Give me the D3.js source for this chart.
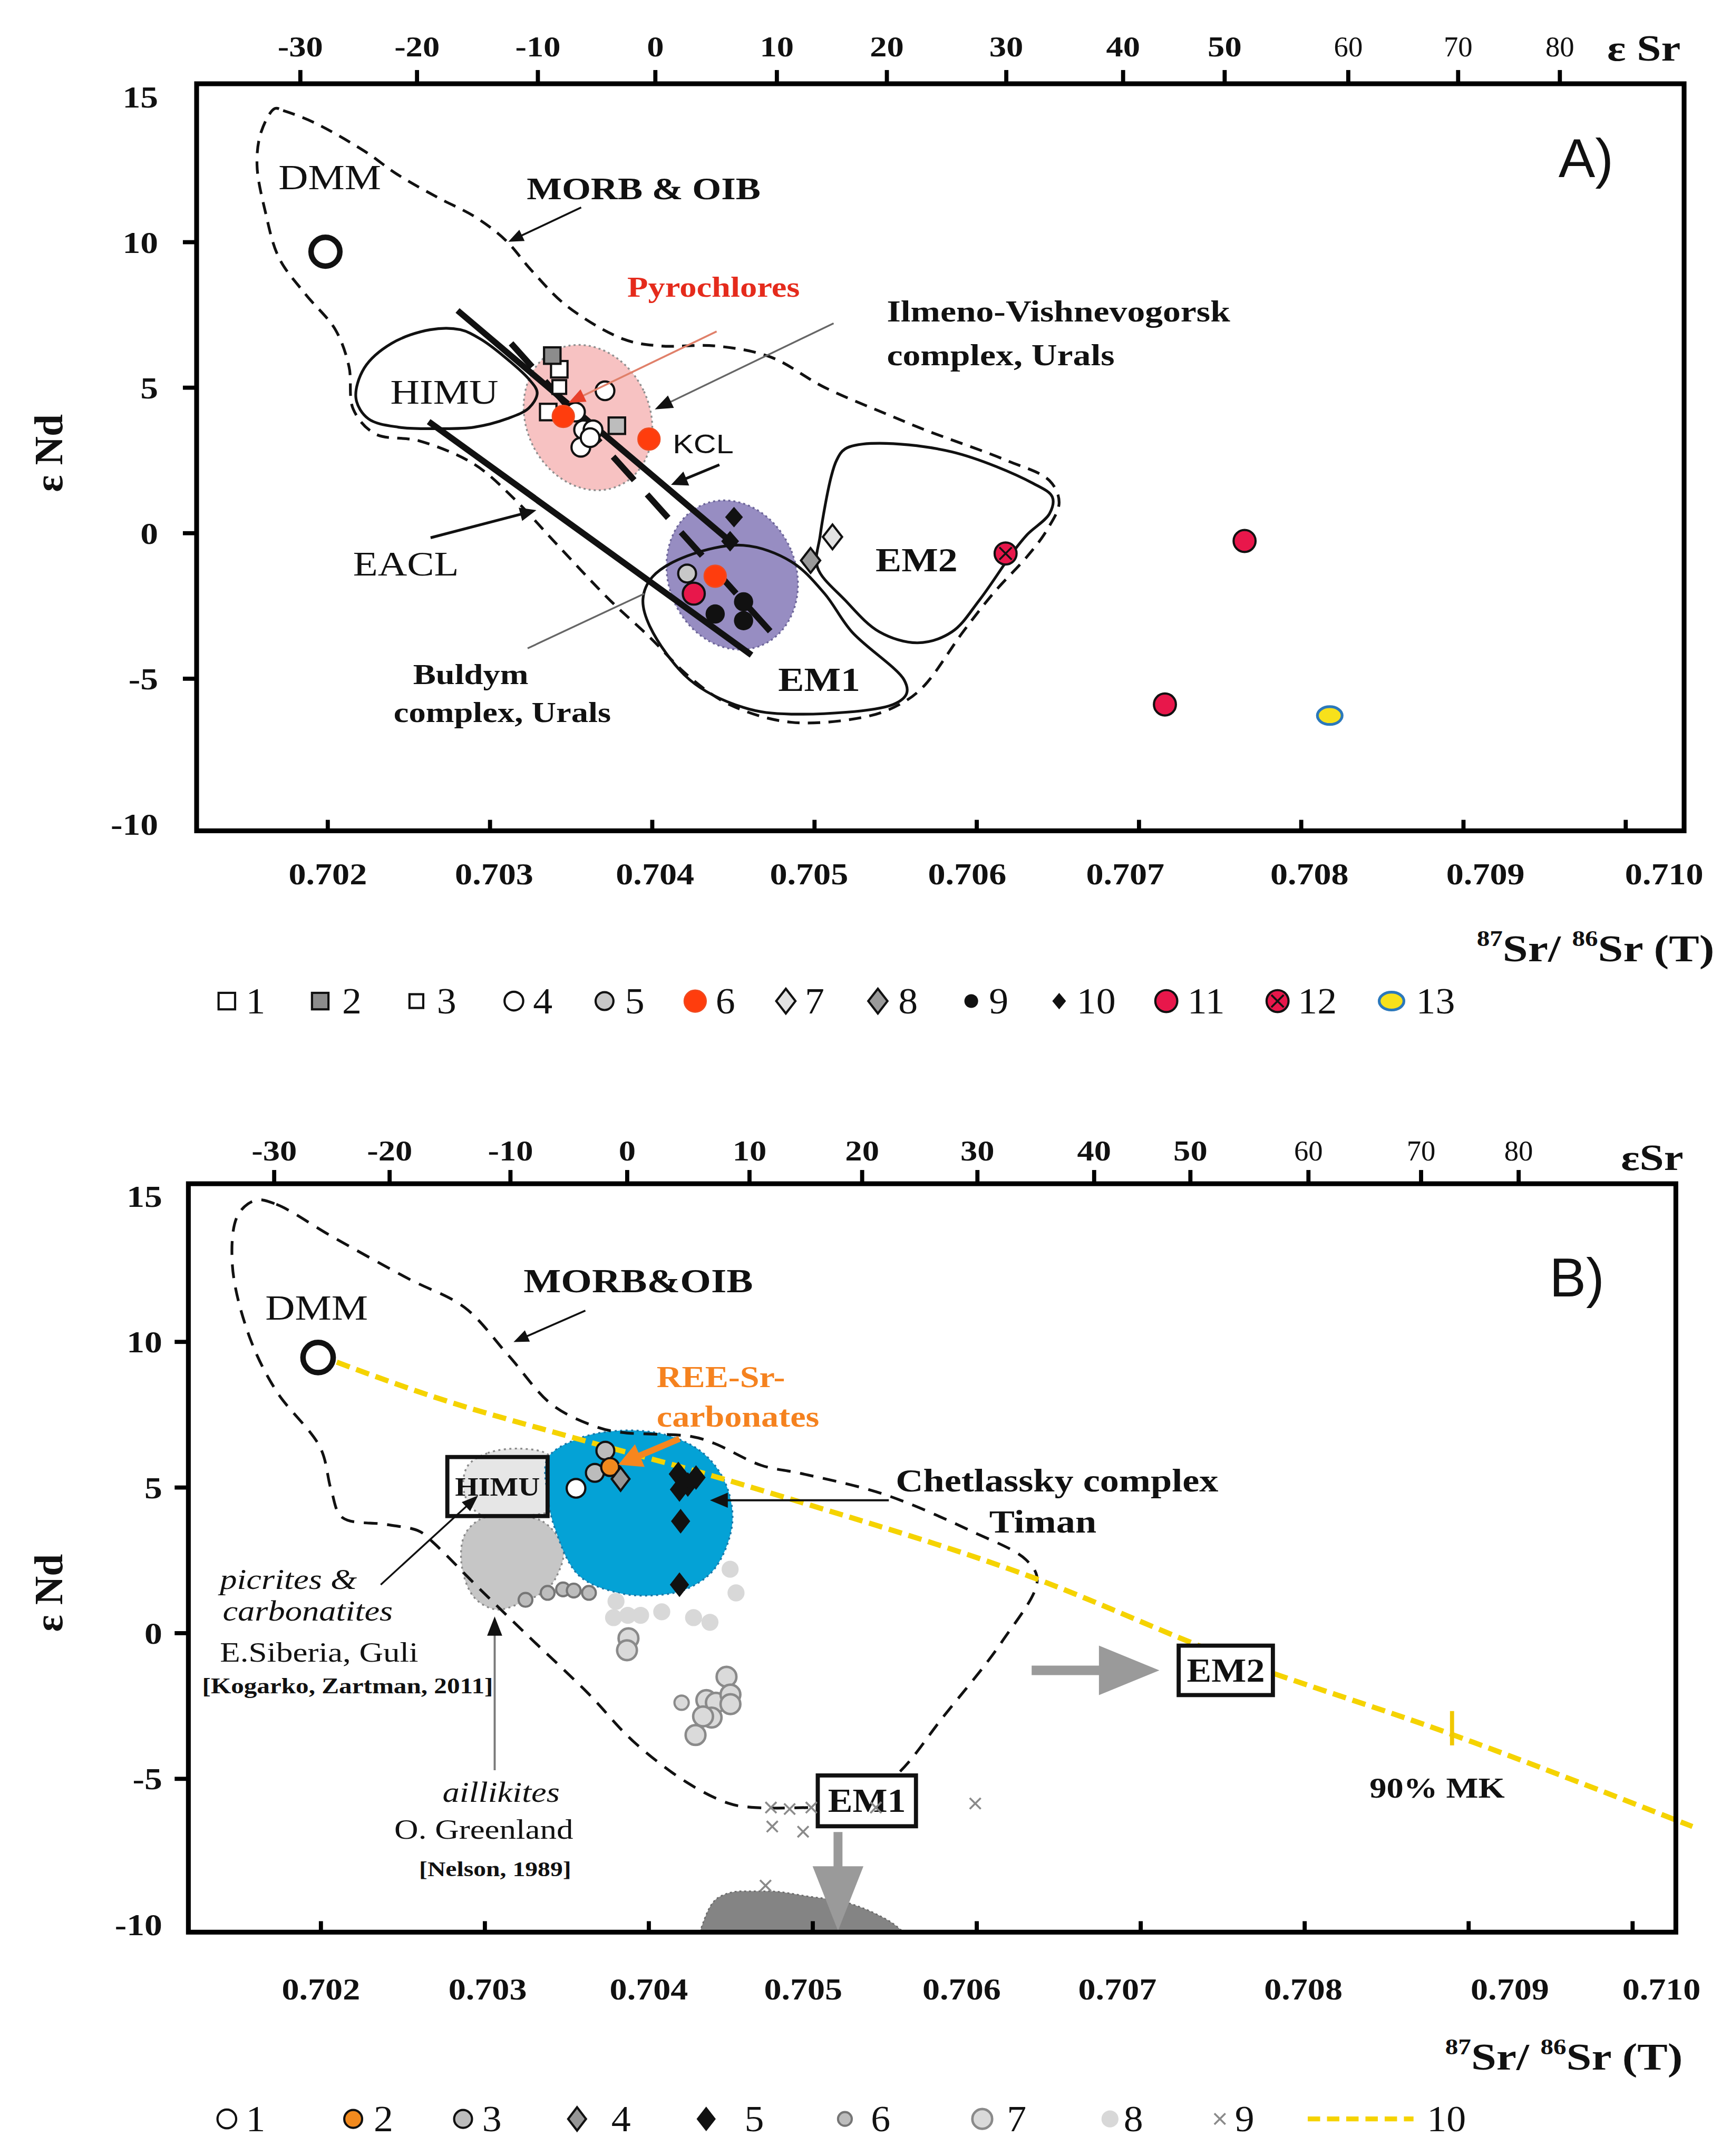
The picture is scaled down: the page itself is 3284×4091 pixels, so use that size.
<!DOCTYPE html>
<html>
<head>
<meta charset="utf-8">
<script src="https://d3js.org/d3.v7.min.js"></script>
<style>body{margin:0;background:#fff}</style>
</head>
<body>
<script>
// Sr-Nd isotope diagrams, panels A) and B)

// ---- axis values ----
var srTicks = [0.702, 0.703, 0.704, 0.705, 0.706, 0.707, 0.708, 0.709, 0.710];
var ndTicks = [15, 10, 5, 0, -5, -10];
var esrTicks = [-30, -20, -10, 0, 10, 20, 30, 40, 50, 60, 70, 80];
// 87Sr/86Sr value that sits under each eSr tick
var esrRatioA = [0.701831, 0.702550, 0.703295, 0.704019, 0.704768, 0.705446, 0.706182, 0.706902, 0.707528, 0.708290, 0.708967, 0.709594];
var esrRatioB = [0.701715, 0.702419, 0.703156, 0.703868, 0.704614, 0.705301, 0.706004, 0.706716, 0.707303, 0.708023, 0.708710, 0.709305];

// ---- panel A data [87Sr/86Sr, eNd] ----
var dmmA = [0.70199, 9.65];
var a1 = [[0.703431, 5.61], [0.703363, 4.14]];
var a2 = [[0.703388, 6.08], [0.703786, 3.67]];
var a3 = [[0.703431, 5.00]];
var a4 = [[0.703713, 4.87], [0.703531, 4.14], [0.703581, 3.53], [0.703639, 3.53], [0.703564, 2.93], [0.703621, 3.26]];
var a5 = [[0.704219, -1.41]];
var a6 = [[0.703456, 3.99], [0.703984, 3.21], [0.704392, -1.50]];
var a7 = [[0.705115, -0.15]];
var a8 = [[0.704980, -0.96]];
var a9 = [[0.704392, -2.80], [0.704567, -2.38], [0.704567, -3.03]];
var a10 = [[0.704508, 0.53], [0.704484, -0.30]];
var a11 = [[0.704260, -2.10], [0.707655, -0.29], [0.707164, -5.91]];
var a12 = [[0.706182, -0.72]];
var a13 = [[0.708180, -6.29]];

var ilmenoCenter = [0.703608, 3.95];
var buldymCenter = [0.704497, -1.46];

var eaclLine = [[0.702626, 3.81], [0.704616, -4.21]];
var kclLine = [[0.702804, 7.63], [0.704514, -0.44]];
var dashLine = [[0.703134, 6.50], [0.704734, -3.41]];

var morbA = [[0.701678, 14.57], [0.701729, 14.50], [0.701915, 14.10], [0.702229, 13.11], [0.702432, 12.31],
  [0.702686, 11.50], [0.702914, 10.84], [0.703101, 10.04], [0.703261, 9.00], [0.703481, 7.77], [0.703829, 6.64],
  [0.704057, 6.41], [0.704396, 6.41], [0.704734, 6.03], [0.705065, 4.99], [0.705479, 4.00], [0.705683, 3.53],
  [0.706182, 2.49], [0.706453, 1.78], [0.706512, 1.03], [0.706436, 0.08], [0.706317, -0.81], [0.706114, -2.04],
  [0.705920, -3.41], [0.705683, -5.25], [0.705556, -5.82], [0.705352, -6.29], [0.704861, -6.52], [0.704480, -5.91],
  [0.704235, -4.97], [0.703989, -3.60], [0.703735, -2.28], [0.703405, -0.34], [0.703160, 1.12], [0.702906, 2.35],
  [0.702567, 3.15], [0.702296, 3.39], [0.702161, 4.24], [0.702135, 5.70], [0.702051, 6.97], [0.701865, 8.20],
  [0.701704, 9.43], [0.701619, 11.03], [0.701568, 12.64], [0.701594, 13.77]];
var himuA = [[0.702178, 4.61], [0.702229, 5.65], [0.702398, 6.50], [0.702635, 6.97], [0.702821, 6.97], [0.702948, 6.64],
  [0.703075, 6.12], [0.703244, 5.27], [0.703295, 4.80], [0.703244, 4.28], [0.703109, 3.91], [0.702906, 3.62],
  [0.702694, 3.57], [0.702440, 3.62], [0.702254, 3.91]];
var em1A = [[0.703947, -2.28], [0.704006, -1.52], [0.704218, -0.81], [0.704565, -0.44], [0.704861, -1.00], [0.705065, -2.09],
  [0.705234, -3.41], [0.705556, -5.06], [0.705572, -5.53], [0.705488, -5.91], [0.704861, -6.24], [0.704565, -6.01],
  [0.704235, -5.06], [0.703989, -3.22]];
var em2A = [[0.705192, 2.87], [0.705352, 3.06], [0.705852, 2.77], [0.706351, 1.69], [0.706470, 1.22], [0.706453, 0.65],
  [0.706317, -0.06], [0.706233, -0.63], [0.706021, -2.32], [0.705852, -3.41], [0.705640, -3.79], [0.705403, -3.41],
  [0.705192, -2.32], [0.705022, -1.19], [0.705039, -0.11], [0.705107, 1.92], [0.705141, 2.49]];

// ---- panel B data ----
var dmmB = [0.701987, 9.44];
var b1 = [[0.703560, 4.95]];
var b2 = [[0.703768, 5.68]];
var b3 = [[0.703675, 5.48], [0.703739, 6.24]];
var b4 = [[0.703832, 5.27]];
var b5 = [[0.704184, 5.44], [0.704242, 5.08], [0.704292, 5.32], [0.704191, 4.91], [0.704198, 3.82], [0.704191, 1.64]];
var b6 = [[0.703252, 1.12], [0.703387, 1.36], [0.703481, 1.48], [0.703546, 1.44], [0.703639, 1.36]];
var b7 = [[0.703880, -0.20], [0.703871, -0.61], [0.704478, -1.52], [0.704204, -2.41], [0.704355, -2.32], [0.704413, -2.41],
  [0.704502, -2.13], [0.704387, -2.92], [0.704289, -3.52], [0.704502, -2.46], [0.704335, -2.88]];
var b8 = [[0.703804, 1.07], [0.703789, 0.51], [0.703876, 0.59], [0.703954, 0.59], [0.704083, 0.71], [0.704277, 0.51],
  [0.704377, 0.35], [0.704500, 2.17], [0.704536, 1.36]];
var b9 = [[0.704749, -6.01], [0.704863, -6.06], [0.704995, -6.01], [0.704757, -6.66], [0.704945, -6.84], [0.705995, -5.87],
  [0.704716, -8.69], [0.705389, -6.01]];
var mixLine = [[0.702101, 9.28], [0.702687, 8.10], [0.703550, 6.68], [0.704404, 5.36], [0.704932, 4.47], [0.706331, 1.92],
  [0.707504, -0.77], [0.708878, -3.45], [0.710369, -6.66]];
var mix90 = [0.708903, -3.31];

var morbB = [[0.701606, 14.84], [0.701732, 14.70], [0.702067, 13.61], [0.702536, 12.15], [0.702880, 11.16], [0.703148, 9.51],
  [0.703416, 7.81], [0.703684, 7.06], [0.703835, 6.87], [0.704262, 6.73], [0.704404, 6.49], [0.704689, 5.74],
  [0.704932, 5.46], [0.705435, 4.75], [0.705971, 3.48], [0.706306, 2.49], [0.706373, 1.78], [0.706155, -0.34],
  [0.705795, -2.93], [0.705518, -4.87], [0.705242, -5.91], [0.705024, -6.00], [0.704630, -6.00], [0.704488, -5.86],
  [0.704237, -5.15], [0.703910, -3.74], [0.703634, -2.09], [0.703257, -0.06], [0.702972, 1.50], [0.702687, 3.10],
  [0.702603, 3.48], [0.702402, 3.71], [0.702134, 3.95], [0.702067, 4.89], [0.702000, 6.35], [0.701732, 8.29],
  [0.701564, 10.22], [0.701464, 12.62], [0.701497, 14.32]];
var chetlasskyField = [[0.703387, 5.98], [0.703567, 6.64], [0.703832, 6.93], [0.704111, 6.78], [0.704335, 6.16], [0.704471, 5.13],
  [0.704513, 3.74], [0.704407, 2.20], [0.704237, 1.50], [0.704047, 1.28], [0.703818, 1.36], [0.703575, 1.97],
  [0.703431, 3.58], [0.703387, 4.71]];
var picriteField = [[0.702896, 5.69], [0.703022, 6.16], [0.703231, 6.31], [0.703399, 6.07], [0.703466, 5.13], [0.703441, 4.28],
  [0.703231, 4.00], [0.702980, 4.04], [0.702880, 4.75]];
var aillikiteField = [[0.703114, 4.00], [0.703357, 3.81], [0.703483, 2.86], [0.703441, 1.92], [0.703374, 1.45], [0.703231, 1.03],
  [0.703072, 0.79], [0.702938, 1.21], [0.702863, 2.30], [0.702880, 3.34], [0.702980, 3.90]];
var em1FieldB = [[0.704314, -10.30], [0.704372, -9.47], [0.704454, -9.02], [0.704568, -8.88], [0.704733, -8.88],
  [0.704978, -9.06], [0.705224, -9.29], [0.705389, -9.66], [0.705503, -10.03], [0.705560, -10.30]];

// ---- page ----
var svg = d3.select("body").append("svg")
  .attr("width", 3284).attr("height", 4091)
  .attr("viewBox", "0 0 1260 1570");
svg.append("rect").attr("width", 1260).attr("height", 1570).attr("fill", "#fff");

var serif = "'Liberation Serif','Times New Roman',serif";
var sans = "'Liberation Sans',Arial,sans-serif";
var SX = 1.18; // the original lettering is a little wide

var panelA = {
  left: 143, right: 1226, top: 61, bottom: 605,
  x: d3.scaleLinear().domain([0.702, 0.710]).range([238, 1183]),
  y: d3.scaleLinear().domain([-10, 15]).range([599.7, 69.9]),
  esr: esrRatioA, topGap: 20, botGap: 39, labelX: -28, legendY: 729,
  srLabelShift: [0, 3, 2, -4, -7, -10, 6, 16, 28], esrTitle: "\u03b5 Sr"
};
var panelB = {
  left: 137, right: 1220, top: 862, bottom: 1407,
  x: d3.scaleLinear().domain([0.702, 0.710]).range([233, 1188]),
  y: d3.scaleLinear().domain([-10, 15]).range([1400.9, 870.6]),
  esr: esrRatioB, topGap: 17, botGap: 49, labelX: -19, legendY: 1543,
  srLabelShift: [0, 2, 0, -7, -11, -17, -1, 30, 21], esrTitle: "\u03b5Sr"
};

function note(g, x, y, txt, o) {
  o = o || {};
  return g.append("text")
    .attr("transform", "translate(" + x + "," + y + ") scale(" + (o.sx || SX) + ",1)")
    .attr("text-anchor", o.anchor || "start")
    .style("font-family", o.font || serif)
    .style("font-size", (o.size || 22) + "px")
    .style("font-weight", o.weight || "bold")
    .style("font-style", o.italic ? "italic" : "normal")
    .style("fill", o.color || "#111")
    .text(txt);
}

function arrow(g, x1, y1, x2, y2, o) {
  o = o || {};
  var len = o.head || 11, hw = o.hw || 4.5;
  var dx = x2 - x1, dy = y2 - y1, d = Math.sqrt(dx * dx + dy * dy);
  var ux = dx / d, uy = dy / d;
  var bx = x2 - ux * len, by = y2 - uy * len;
  g.append("line")
    .attr("x1", x1).attr("y1", y1).attr("x2", bx + ux).attr("y2", by + uy)
    .attr("stroke", o.color || "#111").attr("stroke-width", o.width || 1.4);
  if (o.nohead) return;
  g.append("path")
    .attr("d", "M" + x2 + "," + y2 + "L" + (bx - uy * hw) + "," + (by + ux * hw) + "L" + (bx + uy * hw) + "," + (by - ux * hw) + "Z")
    .attr("fill", o.headColor || o.color || "#111");
}

function dia(w, h) { return "M0," + (-h) + "L" + w + ",0L0," + h + "L" + (-w) + ",0Z"; }

function symbol(g, kind) {
  var k = "#111";
  switch (kind) {
    case "sq": g.append("rect").attr("x", -6).attr("y", -6).attr("width", 12).attr("height", 12).attr("fill", "#fff").attr("stroke", k).attr("stroke-width", 1.6); break;
    case "sqGray": g.append("rect").attr("x", -6).attr("y", -6).attr("width", 12).attr("height", 12).attr("fill", "#8c8c8c").attr("stroke", k).attr("stroke-width", 1.6); break;
    case "sqLight": g.append("rect").attr("x", -6).attr("y", -6).attr("width", 12).attr("height", 12).attr("fill", "#bdbdbd").attr("stroke", k).attr("stroke-width", 1.6); break;
    case "sqSmall": g.append("rect").attr("x", -5).attr("y", -5).attr("width", 10).attr("height", 10).attr("fill", "#fff").attr("stroke", k).attr("stroke-width", 1.6); break;
    case "cWhite": g.append("circle").attr("r", 6.8).attr("fill", "#fff").attr("stroke", k).attr("stroke-width", 1.6); break;
    case "cGray": g.append("circle").attr("r", 6.5).attr("fill", "#c8c8c8").attr("stroke", k).attr("stroke-width", 1.6); break;
    case "cRed": g.append("circle").attr("r", 8).attr("fill", "#ff3d0d").attr("stroke", "#f04a20").attr("stroke-width", 1); break;
    case "dLight": g.append("path").attr("d", dia(7, 9)).attr("fill", "#e2e2e2").attr("stroke", k).attr("stroke-width", 1.6); break;
    case "dGray": g.append("path").attr("d", dia(7, 9)).attr("fill", "#9a9a9a").attr("stroke", k).attr("stroke-width", 1.6); break;
    case "cBlack": g.append("circle").attr("r", 7).attr("fill", "#111"); break;
    case "dotBlack": g.append("circle").attr("r", 5).attr("fill", "#111"); break;
    case "dBlack": g.append("path").attr("d", dia(6.5, 7.5)).attr("fill", "#111"); break;
    case "dBlackSmall": g.append("path").attr("d", dia(5, 6)).attr("fill", "#111"); break;
    case "cCrimson": g.append("circle").attr("r", 8).attr("fill", "#e8174b").attr("stroke", k).attr("stroke-width", 1.6); break;
    case "cCross":
      g.append("circle").attr("r", 8).attr("fill", "#e8174b").attr("stroke", k).attr("stroke-width", 1.6);
      g.append("path").attr("d", "M-4.5,-4.5L4.5,4.5M-4.5,4.5L4.5,-4.5").attr("stroke", k).attr("stroke-width", 1.4);
      break;
    case "eYellow": g.append("ellipse").attr("rx", 9).attr("ry", 6.5).attr("fill", "#f7e11b").attr("stroke", "#2b78bb").attr("stroke-width", 2); break;
    case "cOrange": g.append("circle").attr("r", 6.5).attr("fill", "#f28a1e").attr("stroke", k).attr("stroke-width", 1.6); break;
    case "cGray3": g.append("circle").attr("r", 6.5).attr("fill", "#bcbcbc").attr("stroke", k).attr("stroke-width", 1.6); break;
    case "dGray4": g.append("path").attr("d", dia(6.5, 8.5)).attr("fill", "#969696").attr("stroke", k).attr("stroke-width", 1.6); break;
    case "dBlack5": g.append("path").attr("d", dia(7, 9)).attr("fill", "#111"); break;
    case "c6": g.append("circle").attr("r", 5).attr("fill", "#bdbdbd").attr("stroke", "#767676").attr("stroke-width", 1.6); break;
    case "c7": g.append("circle").attr("r", 7.2).attr("fill", "#dadada").attr("stroke", "#8a8a8a").attr("stroke-width", 1.8); break;
    case "c7s": g.append("circle").attr("r", 5.2).attr("fill", "#dadada").attr("stroke", "#8a8a8a").attr("stroke-width", 1.6); break;
    case "c8": g.append("circle").attr("r", 6.2).attr("fill", "#d8d8d8"); break;
    case "x9": g.append("path").attr("d", "M-4,-4L4,4M-4,4L4,-4").attr("stroke", "#8a8a8a").attr("stroke-width", 1.4); break;
  }
}

function points(g, P, data, kind) {
  g.selectAll(null).data(data).enter().append("g")
    .attr("transform", function (d) { return "translate(" + P.x(d[0]) + "," + P.y(d[1]) + ")"; })
    .each(function () { symbol(d3.select(this), kind); });
}

function outline(g, P, data, o) {
  var line = d3.line().x(function (d) { return P.x(d[0]); }).y(function (d) { return P.y(d[1]); })
    .curve(d3.curveCatmullRomClosed.alpha(0.5));
  return g.append("path").attr("d", line(data))
    .attr("fill", o.fill || "none").attr("stroke", o.stroke || "none")
    .attr("stroke-width", o.width || 2).attr("stroke-dasharray", o.dash || null);
}

function segment(g, P, data, o) {
  return g.append("line")
    .attr("x1", P.x(data[0][0])).attr("y1", P.y(data[0][1]))
    .attr("x2", P.x(data[1][0])).attr("y2", P.y(data[1][1]))
    .attr("stroke", "#111").attr("stroke-width", o.width || 4.5)
    .attr("stroke-dasharray", o.dash || null);
}

function drawAxes(g, P) {
  g.append("rect")
    .attr("x", P.left).attr("y", P.top)
    .attr("width", P.right - P.left).attr("height", P.bottom - P.top)
    .attr("fill", "none").attr("stroke", "#000").attr("stroke-width", 3.5);

  // eSr on top
  var topScale = d3.scaleLinear().domain(esrTicks).range(P.esr.map(P.x));
  var tAx = g.append("g").attr("transform", "translate(0," + P.top + ")")
    .call(d3.axisTop(topScale).tickValues(esrTicks).tickSize(10).tickFormat(function (d) { return String(d); }));
  tAx.select(".domain").remove();
  tAx.selectAll(".tick line").attr("stroke", "#000").attr("stroke-width", 3);
  tAx.selectAll(".tick text")
    .attr("y", -P.topGap).attr("dy", 0)
    .attr("transform", function (d) { return d >= 60 ? "scale(1,1)" : "scale(" + SX + ",1)"; })
    .style("font-family", serif).style("font-size", "21px")
    .style("font-weight", function (d) { return d >= 60 ? "normal" : "bold"; })
    .style("fill", "#111");

  // 87Sr/86Sr at the bottom, ticks inside
  var bAx = g.append("g").attr("transform", "translate(0," + P.bottom + ")")
    .call(d3.axisBottom(P.x).tickValues(srTicks).tickSize(-8).tickFormat(d3.format(".3f")));
  bAx.select(".domain").remove();
  bAx.selectAll(".tick line").attr("stroke", "#000").attr("stroke-width", 3);
  bAx.selectAll(".tick text")
    .attr("y", P.botGap).attr("dy", 0)
    .attr("transform", function (d, i) { return "translate(" + P.srLabelShift[i] + ",0) scale(" + SX + ",1)"; })
    .style("font-family", serif).style("font-size", "21.5px").style("font-weight", "bold").style("fill", "#111");

  // eNd on the left
  var lAx = g.append("g").attr("transform", "translate(" + P.left + ",0)")
    .call(d3.axisLeft(P.y).tickValues(ndTicks).tickSize(10).tickFormat(function (d) { return String(d); }));
  lAx.select(".domain").remove();
  lAx.selectAll(".tick line").attr("stroke", "#000").attr("stroke-width", 3)
    .attr("x2", function (d) { return (d === 15 || d === -10) ? 0 : -10; });
  lAx.selectAll(".tick text")
    .attr("x", 0).attr("dy", "0.35em")
    .attr("transform", "translate(" + P.labelX + ",0) scale(" + SX + ",1)")
    .style("font-family", serif).style("font-size", "22px").style("font-weight", "bold").style("fill", "#111");
}

function axisTitles(g, P, nd, esrPos, srPos) {
  note(g, esrPos[0], esrPos[1], P.esrTitle, { size: 27 });
  g.append("text")
    .attr("transform", "translate(" + nd[0] + "," + nd[1] + ") rotate(-90)")
    .attr("text-anchor", "middle")
    .style("font-family", serif).style("font-size", "29px").style("font-weight", "bold").style("fill", "#111")
    .text("\u03b5 Nd");
  var t = g.append("text")
    .attr("transform", "translate(" + srPos[0] + "," + srPos[1] + ") scale(" + SX + ",1)")
    .attr("text-anchor", "end")
    .style("font-family", serif).style("font-weight", "bold").style("fill", "#111");
  t.append("tspan").style("font-size", "16px").attr("dy", -11).text("87");
  t.append("tspan").style("font-size", "28px").attr("dy", 11).text("Sr/ ");
  t.append("tspan").style("font-size", "16px").attr("dy", -11).text("86");
  t.append("tspan").style("font-size", "28px").attr("dy", 11).text("Sr (T)");
}

function legend(g, y, items) {
  items.forEach(function (it) {
    var s = g.append("g").attr("transform", "translate(" + it[1] + "," + y + ")");
    if (it[0] === "yline") {
      s.append("line").attr("x1", 0).attr("x2", 77).attr("stroke", "#f5d300").attr("stroke-width", 3.5).attr("stroke-dasharray", "9,5");
    } else {
      symbol(s, it[0]);
    }
    note(g, it[2], y + 9, it[3], { anchor: "middle", weight: "normal", size: 27, sx: 1.05 });
  });
}

// ================= PANEL A =================
(function () {
  var P = panelA, x = P.x, y = P.y;
  var g = svg.append("g");

  // Ilmeno-Vishnevogorsk and Buldym fields
  g.append("ellipse").attr("cx", x(ilmenoCenter[0])).attr("cy", y(ilmenoCenter[1]))
    .attr("rx", 45).attr("ry", 54.5)
    .attr("transform", "rotate(-25," + x(ilmenoCenter[0]) + "," + y(ilmenoCenter[1]) + ")")
    .attr("fill", "#f7c2c2").attr("stroke", "#8f8f8f").attr("stroke-width", 1.3).attr("stroke-dasharray", "1.5,2.2");
  g.append("ellipse").attr("cx", x(buldymCenter[0])).attr("cy", y(buldymCenter[1]))
    .attr("rx", 46.5).attr("ry", 55.5)
    .attr("transform", "rotate(-22," + x(buldymCenter[0]) + "," + y(buldymCenter[1]) + ")")
    .attr("fill", "#978dc2").attr("stroke", "#6d6699").attr("stroke-width", 1.3).attr("stroke-dasharray", "1.5,2.2");

  outline(g, P, morbA, { stroke: "#111", width: 2, dash: "9,6" });
  outline(g, P, himuA, { stroke: "#111", width: 2 });
  outline(g, P, em1A, { stroke: "#111", width: 2 });
  outline(g, P, em2A, { stroke: "#111", width: 2 });

  segment(g, P, eaclLine, {});
  segment(g, P, kclLine, {});
  segment(g, P, dashLine, { dash: "23,14" });

  // DMM
  g.append("circle").attr("cx", x(dmmA[0])).attr("cy", y(dmmA[1])).attr("r", 10.5)
    .attr("fill", "none").attr("stroke", "#111").attr("stroke-width", 4);

  points(g, P, a1, "sq");
  points(g, P, a2.slice(0, 1), "sqGray");
  points(g, P, a2.slice(1), "sqLight");
  points(g, P, a3, "sqSmall");
  points(g, P, a4, "cWhite");
  points(g, P, a5, "cGray");
  points(g, P, a6, "cRed");
  points(g, P, a7, "dLight");
  points(g, P, a8, "dGray");
  points(g, P, a9, "cBlack");
  points(g, P, a10, "dBlack");
  points(g, P, a11, "cCrimson");
  points(g, P, a12, "cCross");
  points(g, P, a13, "eYellow");

  // annotations
  note(g, x(0.70170), y(11.79), "DMM", { weight: "normal", size: 26, sx: 1.15 });
  note(g, x(0.70323), y(11.46), "MORB & OIB", { size: 23 });
  arrow(g, x(0.703566), y(11.17), x(0.703117), y(9.99), { head: 11, hw: 4.5 });
  note(g, x(0.70385), y(8.11), "Pyrochlores", { size: 21, color: "#e52b1c" });
  arrow(g, x(0.704401), y(6.91), x(0.703489), y(4.46), { color: "#e0806a", width: 1.4, headColor: "#e8402a", head: 12, hw: 5 });
  note(g, x(0.70545), y(7.26), "Ilmeno-Vishnevogorsk", { size: 22 });
  note(g, x(0.70545), y(5.75), "complex, Urals", { size: 22 });
  arrow(g, x(0.705122), y(7.19), x(0.704020), y(4.23), { color: "#666", width: 1.3, headColor: "#111", head: 13, hw: 5 });
  note(g, x(0.70413), y(2.73), "KCL", { font: sans, weight: "normal", size: 19, sx: 1.2 });
  arrow(g, x(0.704418), y(2.33), x(0.704120), y(1.64), { width: 2, head: 12, hw: 5.5 });
  note(g, x(0.70239), y(4.42), "HIMU", { weight: "normal", size: 25 });
  note(g, x(0.70216), y(-1.48), "EACL", { weight: "normal", size: 25 });
  arrow(g, x(0.702638), y(-0.18), x(0.703290), y(0.77), { width: 2, head: 12, hw: 5 });
  note(g, x(0.70538), y(-1.33), "EM2", { size: 24 });
  note(g, x(0.70478), y(-5.44), "EM1", { size: 24 });
  note(g, x(0.70253), y(-5.20), "Buldym", { size: 21 });
  note(g, x(0.70241), y(-6.52), "complex, Urals", { size: 21 });
  arrow(g, x(0.703236), y(-3.98), x(0.704032), y(-1.90), { color: "#666", width: 1.3, nohead: true });
  note(g, x(0.70959), y(12.21), "A)", { font: sans, weight: "normal", size: 40, sx: 1 });

  drawAxes(g, P);
  axisTitles(g, P, [45, 330], [1170, 44], [1248, 700]);

  legend(g, P.legendY, [
    ["sq", 165, 186, "1"], ["sqGray", 233, 256, "2"], ["sqSmall", 303, 325, "3"], ["cWhite", 374, 395, "4"],
    ["cGray", 440, 462, "5"], ["cRed", 506, 528, "6"], ["dLight", 572, 593, "7"], ["dGray", 639, 661, "8"],
    ["dotBlack", 707, 727, "9"], ["dBlackSmall", 771, 798, "10"], ["cCrimson", 849, 878, "11"],
    ["cCross", 930, 959, "12"], ["eYellow", 1013, 1045, "13"]
  ]);
})();

// ================= PANEL B =================
(function () {
  var P = panelB, x = P.x, y = P.y;
  var g = svg.append("g");

  outline(g, P, picriteField, { fill: "#e6e6e6", stroke: "#8a8a8a", width: 1.3, dash: "1.5,2.5" });
  outline(g, P, aillikiteField, { fill: "#c6c6c6", stroke: "#8a8a8a", width: 1.3, dash: "1.5,2.5" });
  outline(g, P, chetlasskyField, { fill: "#04a2d6", stroke: "#1a78a8", width: 1.3, dash: "1.5,2.5" });

  // EM1 field at the base of the plot
  var mound = d3.line().x(function (d) { return x(d[0]); }).y(function (d) { return y(d[1]); }).curve(d3.curveMonotoneX);
  g.append("path").attr("d", mound(em1FieldB) + "Z")
    .attr("fill", "#848484").attr("stroke", "#6a6a6a").attr("stroke-width", 1).attr("stroke-dasharray", "1.5,2");

  outline(g, P, morbB, { stroke: "#111", width: 2, dash: "10,7" });

  // DMM - EM2 mixing line (10)
  var mix = d3.line().x(function (d) { return x(d[0]); }).y(function (d) { return y(d[1]); }).curve(d3.curveMonotoneX);
  g.append("path").attr("d", mix(mixLine)).attr("fill", "none")
    .attr("stroke", "#f5d300").attr("stroke-width", 3.8).attr("stroke-dasharray", "10,5");
  g.append("line").attr("x1", x(mix90[0])).attr("x2", x(mix90[0]))
    .attr("y1", y(mix90[1]) - 13).attr("y2", y(mix90[1]) + 12)
    .attr("stroke", "#f0c800").attr("stroke-width", 3);

  g.append("circle").attr("cx", x(dmmB[0])).attr("cy", y(dmmB[1])).attr("r", 11)
    .attr("fill", "none").attr("stroke", "#111").attr("stroke-width", 4);

  points(g, P, b6, "c6");
  points(g, P, b8, "c8");
  points(g, P, b7.slice(0, 3), "c7");
  points(g, P, b7.slice(3, 4), "c7s");
  points(g, P, b7.slice(4), "c7");
  points(g, P, b1, "cWhite");
  points(g, P, b3, "cGray3");
  points(g, P, b2, "cOrange");
  points(g, P, b4, "dGray4");
  points(g, P, b5, "dBlack5");

  // labelled boxes
  function box(sr, nd, w, h, txt, size, fill) {
    var cx = x(sr), cy = y(nd);
    g.append("rect").attr("x", cx - w / 2).attr("y", cy - h / 2).attr("width", w).attr("height", h)
      .attr("fill", fill).attr("stroke", "#111").attr("stroke-width", 3);
    note(g, cx, cy + size * 0.34, txt, { anchor: "middle", size: size, sx: 1.12 });
  }
  box(0.703081, 5.01, 73, 43, "HIMU", 19.5, "none");
  box(0.705334, -5.78, 71.5, 37, "EM1", 24, "#fff");
  box(0.707523, -1.30, 68.6, 36, "EM2", 24, "#fff");
  points(g, P, b9, "x9");

  // grey pointers to EM1 and EM2
  arrow(g, x(0.706339), y(-1.30), x(0.707118), y(-1.30), { color: "#9a9a9a", width: 7, head: 44, hw: 18 });
  arrow(g, x(0.705158), y(-6.85), x(0.705158), y(-10.24), { color: "#9a9a9a", width: 6.5, head: 47, hw: 18.5 });

  // annotations
  note(g, x(0.701665), y(10.74), "DMM", { weight: "normal", size: 26, sx: 1.15 });
  note(g, x(0.703240), y(11.68), "MORB&OIB", { size: 24.5 });
  arrow(g, x(0.703617), y(11.05), x(0.703179), y(9.97), { head: 11, hw: 4.5 });
  note(g, x(0.704052), y(8.43), "REE-Sr-", { size: 21.5, color: "#f5821f" });
  note(g, x(0.704052), y(7.06), "carbonates", { size: 21.5, color: "#f5821f" });
  arrow(g, x(0.704191), y(6.65), x(0.703818), y(5.76), { color: "#f7861e", width: 4.5, head: 17, hw: 9 });
  note(g, x(0.705510), y(4.84), "Chetlassky complex", { size: 23.5 });
  note(g, x(0.706080), y(3.43), "Timan", { size: 23.5 });
  arrow(g, x(0.705468), y(4.54), x(0.704377), y(4.54), { width: 1.5, head: 13, hw: 5.5 });
  note(g, x(0.701388), y(1.50), "picrites  &", { weight: "normal", italic: true, size: 21 });
  note(g, x(0.701405), y(0.41), "carbonatites", { weight: "normal", italic: true, size: 21 });
  arrow(g, x(0.702369), y(1.64), x(0.702963), y(4.70), { width: 1.3, head: 12, hw: 4.5 });
  note(g, x(0.701388), y(-1.00), "E.Siberia, Guli", { weight: "normal", size: 20.5 });
  note(g, x(0.701280), y(-2.09), "[Kogarko, Zartman, 2011]", { size: 16 });
  note(g, x(0.702746), y(-5.81), "aillikites", { weight: "normal", italic: true, size: 21 });
  note(g, x(0.702452), y(-7.08), "O. Greenland", { weight: "normal", size: 20.5 });
  note(g, x(0.702603), y(-8.36), "[Nelson, 1989]", { size: 15.5 });
  arrow(g, x(0.703064), y(-4.73), x(0.703064), y(0.55), { color: "#7a7a7a", width: 1.5, headColor: "#111", head: 14, hw: 5.5 });
  note(g, x(0.708400), y(-5.67), "90% MK", { size: 21 });
  note(g, x(0.709497), y(11.54), "B)", { font: sans, weight: "normal", size: 40, sx: 1 });

  drawAxes(g, P);
  axisTitles(g, P, [45, 1160], [1180, 852], [1225, 1507]);

  legend(g, P.legendY, [
    ["cWhite", 165, 186, "1"], ["cOrange", 257, 279, "2"], ["cGray3", 337, 358, "3"], ["dGray4", 420, 452, "4"],
    ["dBlack5", 514, 549, "5"], ["c6", 615, 641, "6"], ["c7", 715, 740, "7"], ["c8", 808, 825, "8"],
    ["x9", 888, 906, "9"], ["yline", 952, 1053, "10"]
  ]);
})();
</script>
</body>
</html>
